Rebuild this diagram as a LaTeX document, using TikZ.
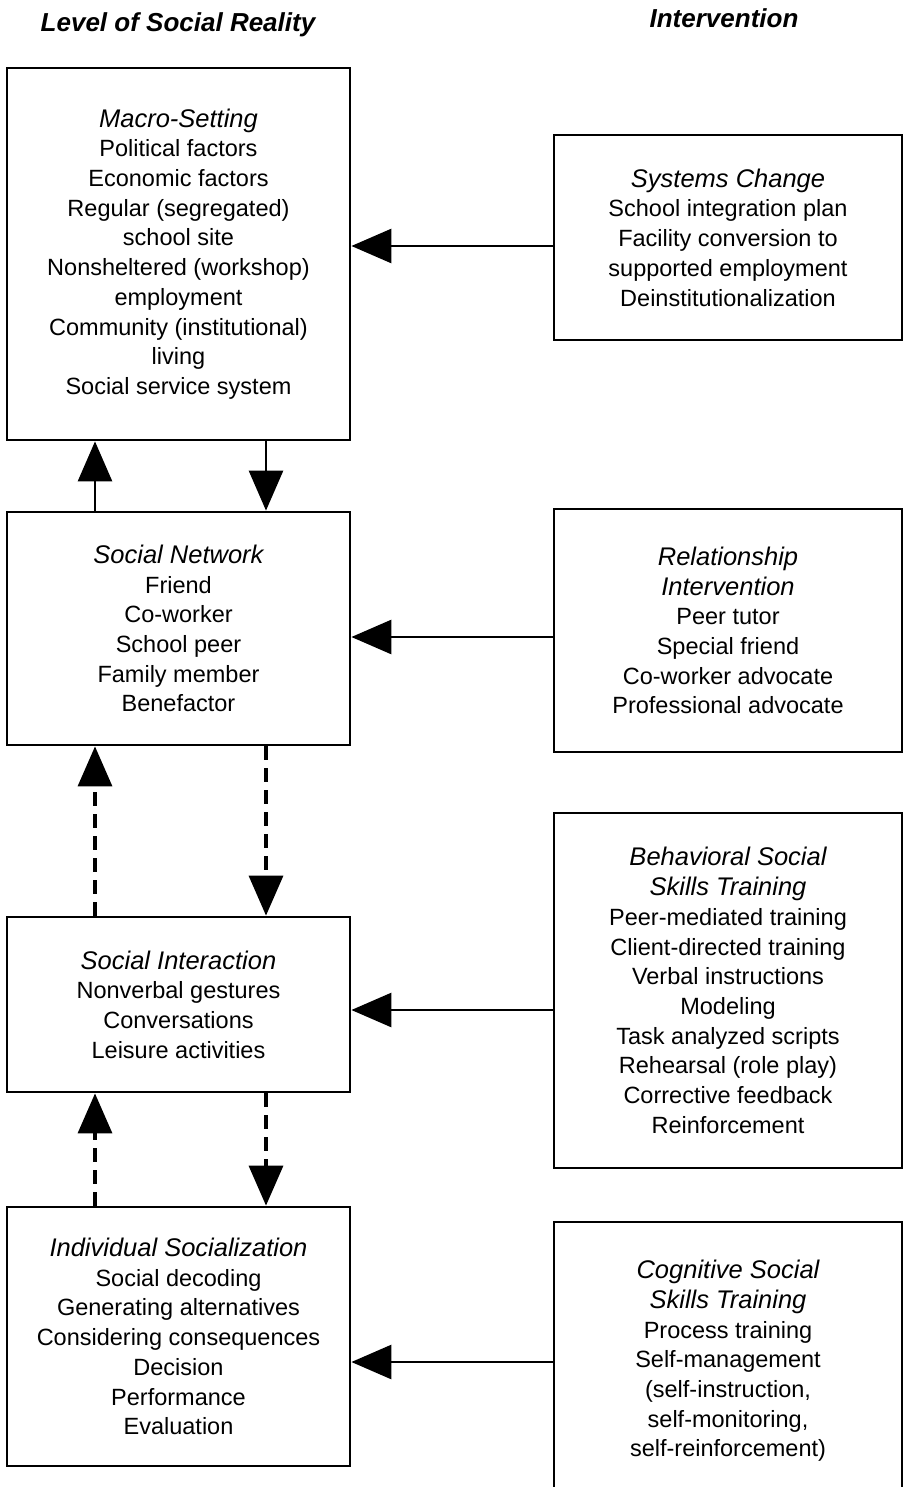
\documentclass[tikz,border=0pt]{standalone}
\usepackage{fontspec}
\setmainfont{Liberation Sans}
\usetikzlibrary{arrows.meta}
\newcommand\boxhead[1]{{\fontsize{25.5}{30}\selectfont\itshape #1}}
\begin{document}
\begin{tikzpicture}[x=1pt,y=-1pt,
  box/.style={draw, line width=2.8pt, rectangle, inner sep=0pt, align=center,
    font=\fontsize{23.5}{29.7}\selectfont},
  lbox/.style={box, minimum width=343pt},
  rbox/.style={box, minimum width=348pt},
  hdr/.style={font=\fontsize{26}{30}\selectfont\bfseries\itshape, anchor=base, inner sep=0pt},
  arr/.style={line width=2.8pt, -{Triangle[length=40pt,width=34pt]}},
  darr/.style={arr, line width=3.4pt, dash pattern=on 14pt off 8pt}]
\useasboundingbox (0,0) rectangle (907,1487);

\node[hdr] (hl) at (178,32) {Level of Social Reality};
\node[hdr] (hr) at (724,28) {Intervention};

% left column
\node[lbox, minimum height=372pt] (macro) at (178.5,254) {\boxhead{Macro-Setting}\\
Political factors\\ Economic factors\\ Regular (segregated)\\ school site\\
Nonsheltered (workshop)\\ employment\\ Community (institutional)\\ living\\
Social service system};
\node[lbox, minimum height=233pt] (net) at (178.5,628.5) {\boxhead{Social Network}\\
Friend\\ Co-worker\\ School peer\\ Family member\\ Benefactor};
\node[lbox, minimum height=175pt] (inter) at (178.5,1004.5) {\boxhead{Social Interaction}\\
Nonverbal gestures\\ Conversations\\ Leisure activities};
\node[lbox, minimum height=259pt] (indiv) at (178.5,1336.5) {\boxhead{Individual Socialization}\\
Social decoding\\ Generating alternatives\\ Considering consequences\\ Decision\\
Performance\\ Evaluation};

% right column
\node[rbox, minimum height=205pt] (sys) at (728,237.5) {\boxhead{Systems Change}\\
School integration plan\\ Facility conversion to\\ supported employment\\ Deinstitutionalization};
\node[rbox, minimum height=243pt] (rel) at (728,630.5) {\boxhead{Relationship}\\ \boxhead{Intervention}\\
Peer tutor\\ Special friend\\ Co-worker advocate\\ Professional advocate};
\node[rbox, minimum height=355pt] (beh) at (728,990.5) {\boxhead{Behavioral Social}\\ \boxhead{Skills Training}\\
Peer-mediated training\\ Client-directed training\\ Verbal instructions\\ Modeling\\
Task analyzed scripts\\ Rehearsal (role play)\\ Corrective feedback\\ Reinforcement};
\node[rbox, minimum height=278pt] (cog) at (728,1361) {\boxhead{Cognitive Social}\\ \boxhead{Skills Training}\\
Process training\\ Self-management\\ (self-instruction,\\ self-monitoring,\\ self-reinforcement)};

% guide coordinates
\coordinate (ux) at (95,0);
\coordinate (dx) at (266,0);
\coordinate (h1) at (0,246);
\coordinate (h2) at (0,637);
\coordinate (h3) at (0,1010);
\coordinate (h4) at (0,1362);

% horizontal arrows
\draw[arr] (sys.west |- h1) -- (macro.east |- h1);
\draw[arr] (rel.west |- h2) -- (net.east |- h2);
\draw[arr] (beh.west |- h3) -- (inter.east |- h3);
\draw[arr] (cog.west |- h4) -- (indiv.east |- h4);

% vertical arrows
\draw[arr] (net.north -| ux) -- (macro.south -| ux);
\draw[arr] (macro.south -| dx) -- (net.north -| dx);
\draw[darr] (inter.north -| ux) -- (net.south -| ux);
\draw[darr] (net.south -| dx) -- (inter.north -| dx);
\draw[darr] (indiv.north -| ux) -- (inter.south -| ux);
\draw[darr] (inter.south -| dx) -- (indiv.north -| dx);
\end{tikzpicture}
\end{document}
